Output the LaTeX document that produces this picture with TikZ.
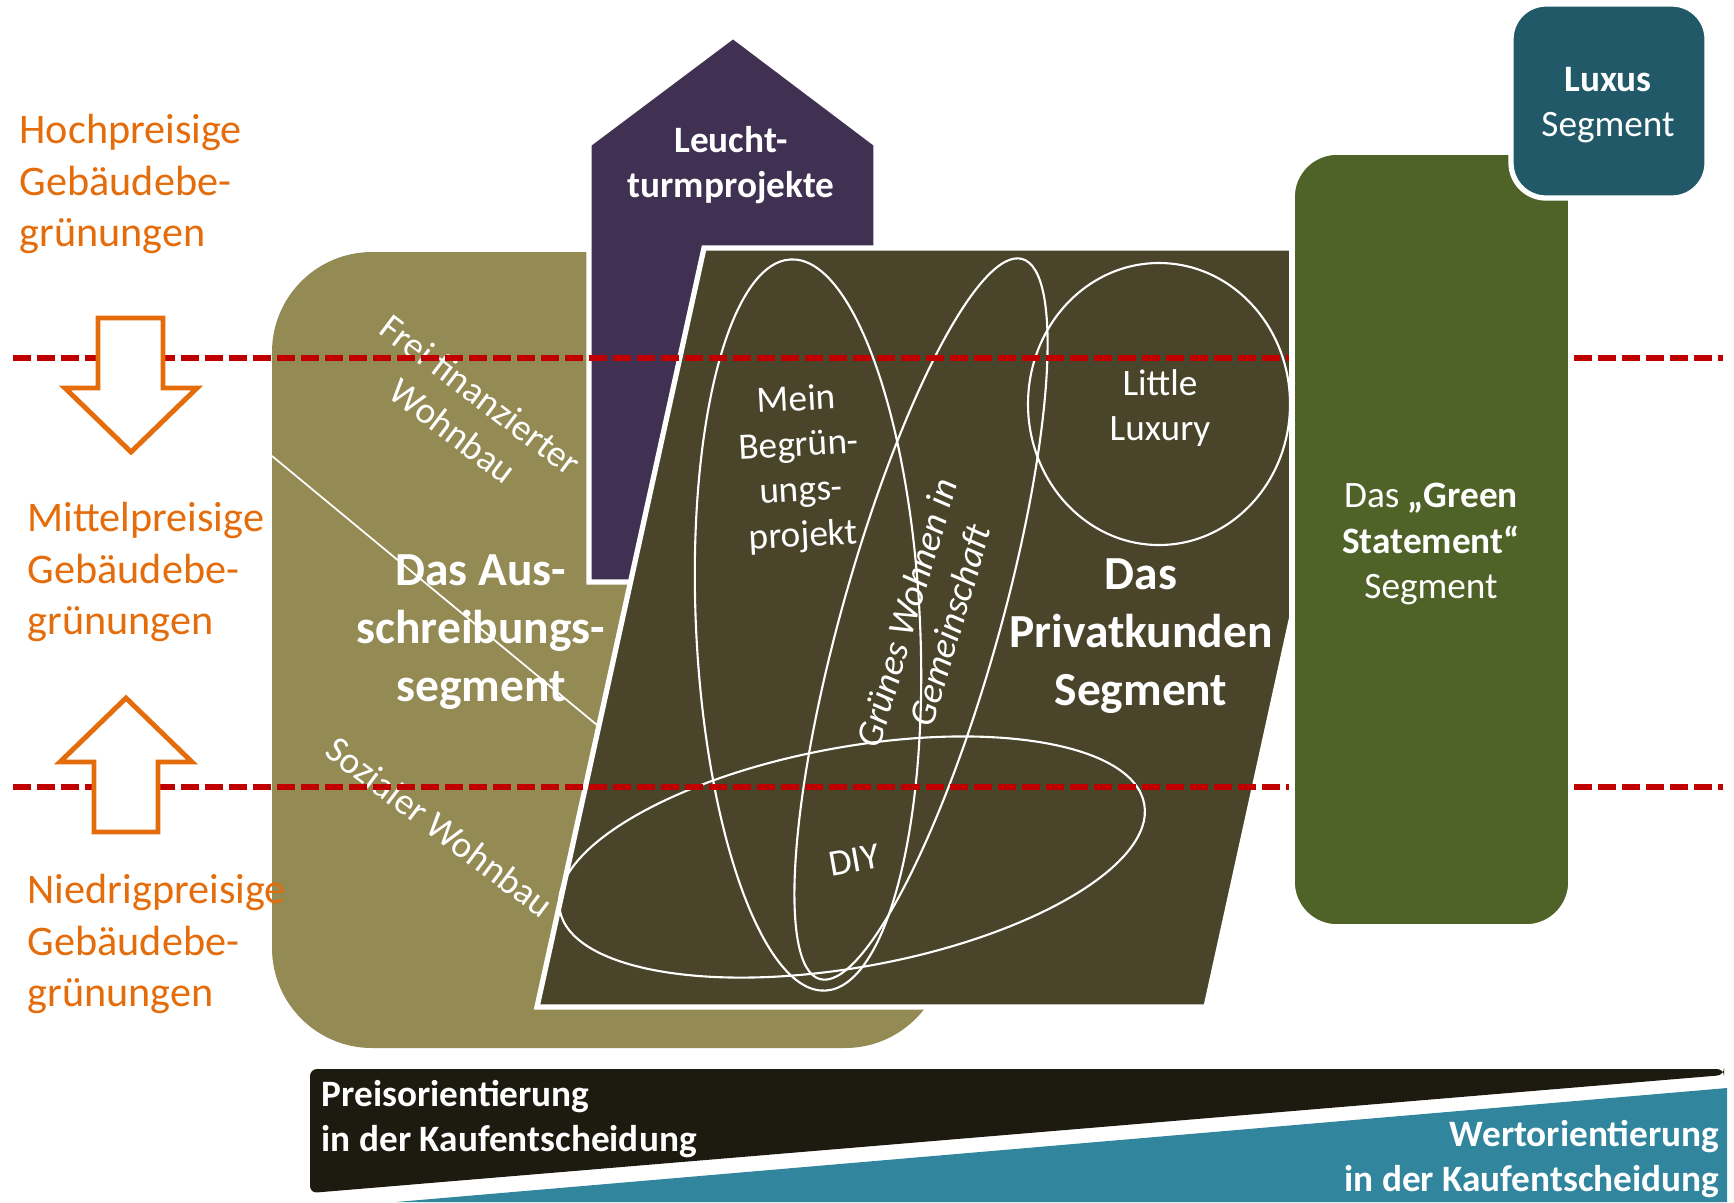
\documentclass[tikz,border=0pt]{standalone}
\usepackage{fontspec}
\setmainfont{Carlito}
\usetikzlibrary{positioning}

\definecolor{preis}{HTML}{E46C0A}
\definecolor{grenze}{HTML}{C00000}
\definecolor{oliv}{HTML}{948A54}
\definecolor{lila}{HTML}{403152}
\definecolor{dunkel}{HTML}{4A452A}
\definecolor{gruen}{HTML}{4F6228}
\definecolor{luxus}{HTML}{215968}
\definecolor{bandschwarz}{HTML}{1D1B10}
\definecolor{bandblau}{HTML}{31859C}

\begin{document}
\begin{tikzpicture}[x=0.01cm, y=-0.01cm,
    txt/.style={text=white, font=\fontsize{10.6}{12.9}\selectfont, align=center, inner sep=0pt},
    txtb/.style={txt, font=\fontsize{10.6}{12.9}\selectfont\bfseries},
    seg/.style={text=white, font=\fontsize{13.5}{16.4}\selectfont\bfseries, align=center, inner sep=0pt},
    price/.style={text=preis, font=\fontsize{12}{14.6}\selectfont, align=left, anchor=west, inner sep=0pt},
    ring/.style={draw=white, line width=0.6pt},
    divider/.style={draw=grenze, line width=1.5pt, dash pattern=on 0.18cm off 0.06cm},
    trend/.style={draw=preis, fill=white, line width=1.4pt},
    panel/.style={draw=white, line width=1.5pt}
]
\useasboundingbox (0,0) rectangle (1734,1202);

% Segments in the background
\fill[oliv, rounded corners=1cm] (272,252) rectangle (945,1048);
\draw[white, line width=0.5pt] (272,456) -- (597,725);
\filldraw[panel, fill=lila] (589,582) -- (589,144) -- (733,36) -- (876,144) -- (876,582) -- cycle;
\filldraw[panel, fill=dunkel] (704,248) -- (1373,248) -- (1206,1007) -- (537,1007) -- cycle;

% Labels on the segments
\node[txt, rotate=-37] (frei) at (467,413) {Frei finanzierter\\Wohnbau};
\node[txt, rotate=-37] (sozial) at (440,827) {Sozialer Wohnbau};
\node[seg] (ausschreibung) at (481,632) {Das Aus-\\schreibungs-\\segment};
\node[txtb] (leuchtturm) at (731,165) {Leucht-\\turmprojekte};
\node[seg] (privat) at (1141,636) {Das\\Privatkunden\\Segment};

% Customer groups inside the private segment
\draw[ring] (808,625) ellipse [x radius=112, y radius=366, rotate=2.7];
\draw[ring] (921,619) ellipse [x radius=79, y radius=374, rotate=-15.7];
\draw[ring] (852,857) ellipse [x radius=297, y radius=110, rotate=10.3];
\draw[ring] (1159,404) ellipse [x radius=131, y radius=141];
\node[txt, rotate=3] (mein) at (800,469) {Mein\\Begrün-\\ungs-\\projekt};
\node[txt, font=\fontsize{10.6}{12.9}\selectfont\itshape, rotate=73.6] (gemeinschaft) at (928,619) {Grünes Wohnen in\\Gemeinschaft};
\node[txt, rotate=10] (diy) at (854,860) {DIY};
\node[txt] (little) at (1160,408) {Little\\Luxury};

% Price levels
\draw[divider] (13,358) -- (1723,358);
\draw[divider] (13,787) -- (1723,787);
\filldraw[trend] (98,318) -- (163,318) -- (163,388) -- (197,388) -- (131,452) -- (65,388) -- (98,388) -- cycle;
\filldraw[trend] (94,832) -- (158,832) -- (158,762) -- (192,762) -- (126,698) -- (60,762) -- (94,762) -- cycle;
\node[price] (hoch) at (19,184) {Hochpreisige\\Gebäudebe-\\grünungen};
\node[price] (mittel) at (27,572) {Mittelpreisige\\Gebäudebe-\\grünungen};
\node[price] (niedrig) at (27,944) {Niedrigpreisige\\Gebäudebe-\\grünungen};

% Green statement and luxury
\filldraw[panel, fill=gruen, line width=1.6pt, rounded corners=0.45cm] (1292,152) rectangle (1571,927);
\node[txt] (green) at (1431,544) {Das \textbf{„Green}\\\textbf{Statement“}\\Segment};
\filldraw[panel, fill=luxus, rounded corners=0.35cm] (1511,4) rectangle (1707,198);
\node[txt] (lux) at (1608,105) {\textbf{Luxus}\\Segment};

% Orientation band
\fill[bandschwarz, rounded corners=2pt] (310,1069) -- (1724,1069) -- (1724,1075) -- (310,1193) -- cycle;
\fill[bandblau] (396,1202) -- (1727,1088) -- (1727,1202) -- cycle;
\node[txtb, align=left, anchor=west] (preisorient) at (321,1119) {Preisorientierung\\in der Kaufentscheidung};
\node[txtb, align=right, anchor=east] (wertorient) at (1720,1159) {Wertorientierung\\in der Kaufentscheidung};

\end{tikzpicture}
\end{document}
